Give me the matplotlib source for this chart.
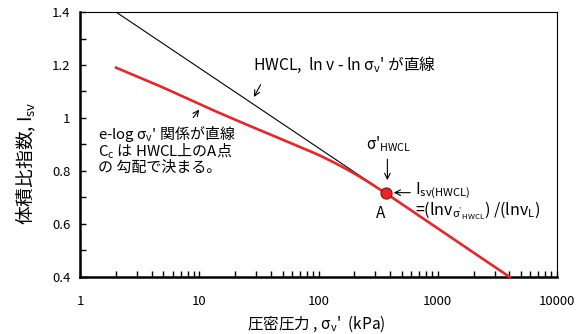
import matplotlib.pyplot as plt
import numpy as np
from matplotlib.ticker import FixedLocator, FuncFormatter, LogLocator, NullFormatter

plt.rcParams['font.family'] = ['Noto Sans CJK JP', 'DejaVu Sans']
plt.rcParams['mathtext.fontset'] = 'custom'
plt.rcParams['mathtext.rm'] = 'Noto Sans CJK JP'
plt.rcParams['mathtext.it'] = 'Noto Sans CJK JP'

# consolidation curve (red)
stress = [2, 5, 10, 20, 50, 100, 200, 370, 1000, 4000]
isv = [1.19, 1.115, 1.052, 0.993, 0.918, 0.862, 0.792, 0.715, 0.583, 0.40]

# HWCL straight line
hwcl_stress = [2, 370]
hwcl_isv = [1.40, 0.715]

# point A
a_stress = 370
a_isv = 0.715

fig = plt.figure(figsize=(5.85, 3.34), dpi=100)
ax = fig.add_axes([0.137, 0.171, 0.815, 0.793])

# smooth the red curve in log space (odd reflection keeps the ends straight)
xs = np.log10(stress)
xf = np.linspace(xs[0], xs[-1], 300)
yf = np.interp(xf, xs, isv)
k = 12
yp = np.pad(yf, k, mode='reflect', reflect_type='odd')
yf = np.convolve(yp, np.ones(2 * k + 1) / (2 * k + 1), mode='same')[k:-k]

ax.plot(hwcl_stress, hwcl_isv, color='black', lw=0.8, zorder=2)
ax.plot(10 ** xf, yf, color='#e8262a', lw=1.9, zorder=3, clip_on=False)
ax.plot([a_stress], [a_isv], 'o', ms=8, mfc='#e8262a', mec='#8b1010', mew=0.8, zorder=4)

ax.set_xscale('log')
ax.set_xlim(1, 10000)
ax.set_ylim(0.4, 1.4)

ax.xaxis.set_major_locator(FixedLocator([1, 10, 100, 1000, 10000]))
ax.xaxis.set_major_formatter(FuncFormatter(lambda v, p: f'{v:g}'))
ax.xaxis.set_minor_locator(LogLocator(base=10, subs=np.arange(2, 10)))
ax.xaxis.set_minor_formatter(NullFormatter())
ax.set_yticks([0.4, 0.6, 0.8, 1.0, 1.2, 1.4])
ax.yaxis.set_major_formatter(FuncFormatter(lambda v, p: f'{v:g}'))
ax.set_yticks([0.5, 0.7, 0.9, 1.1, 1.3], minor=True)

ax.tick_params(which='both', direction='in', length=4, width=1, labelsize=9.5)
ax.tick_params(axis='x', which='both', pad=13)
ax.tick_params(axis='y', which='both', pad=7)
for s in ['left', 'bottom']:
    ax.spines[s].set_linewidth(1.8)
for s in ['top', 'right']:
    ax.spines[s].set_linewidth(0.8)

ax.set_xlabel("圧密圧力 , σ$_\\mathrm{v}$'  (kPa)", fontsize=11.2)
ax.xaxis.set_label_coords(0.495, -0.138)
ax.set_ylabel("体積比指数, I$_\\mathrm{sv}$", fontsize=13.5)
ax.yaxis.set_label_coords(-0.088, 0.43)

ax.text(28, 1.2, "HWCL,  ln v - ln σ$_\\mathrm{v}$' が直線", fontsize=11.3, va='center')
ax.annotate('', xy=(28, 1.07), xytext=(33.5, 1.135),
            arrowprops=dict(arrowstyle='->', color='black', lw=0.8))

note_lines = ["e-log σ$_\\mathrm{v}$' 関係が直線", "C$_\\mathrm{c}$ は HWCL上のA点", "の 勾配で決まる。"]
for line, y in zip(note_lines, [0.94, 0.876, 0.813]):
    ax.text(1.42, y, line, fontsize=10.8, va='center')
ax.annotate('', xy=(10.3, 1.04), xytext=(8.6, 0.993),
            arrowprops=dict(arrowstyle='->', color='black', lw=0.8))

ax.text(390, 0.9, "σ'$_\\mathrm{HWCL}$", fontsize=11, ha='center', va='center')
ax.annotate('', xy=(378, 0.755), xytext=(378, 0.855),
            arrowprops=dict(arrowstyle='->', color='black', lw=0.8))
ax.annotate('', xy=(405, 0.718), xytext=(620, 0.718),
            arrowprops=dict(arrowstyle='->', color='black', lw=0.8))
ax.text(650, 0.724, "I$_\\mathrm{sv(HWCL)}$", fontsize=11.5, va='center')
ax.text(650, 0.65, "=(lnv$_{\\mathrm{\\sigma'_{HWCL}}}$) /(lnv$_\\mathrm{L}$)", fontsize=11.5, va='center')
ax.text(330, 0.64, "A", fontsize=11, ha='center', va='center')

fig.savefig('out.png', dpi=100)
